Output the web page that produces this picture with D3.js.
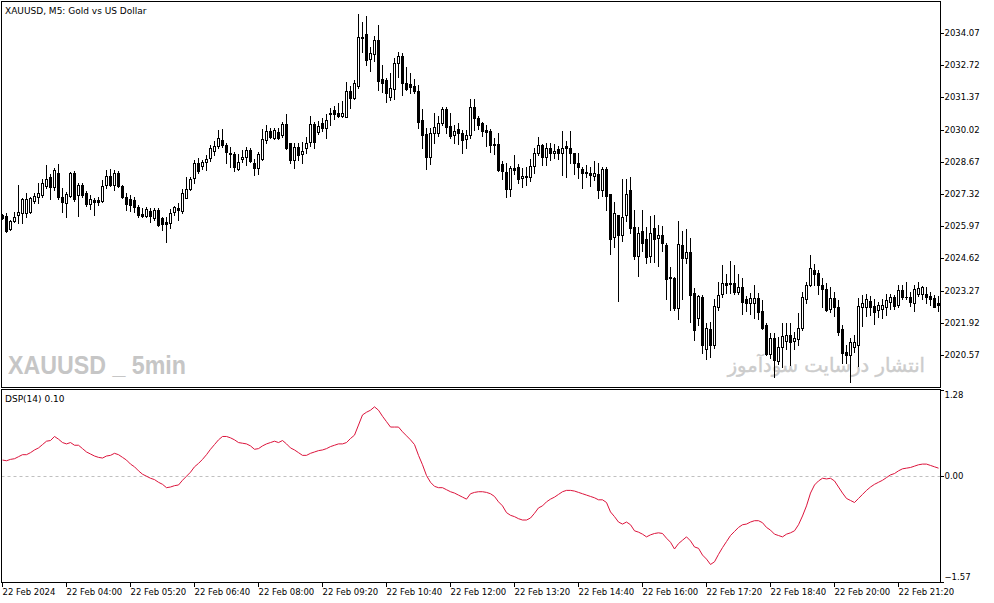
<!DOCTYPE html>
<html>
<head>
<meta charset="utf-8">
<script src="https://d3js.org/d3.v7.min.js"></script>
<style>
  html, body { margin: 0; padding: 0; background: #fff; }
  svg { display: block; }
  .axis text { font-family: "DejaVu Sans", sans-serif; font-size: 8.5px; fill: #000; }
  .axis line { stroke: #000; }
</style>
</head>
<body>
<div id="chart"></div>
<script>
// XAUUSD M5, 22 Feb 2024 - candles + DSP(14) oscillator

const symbolTitle = 'XAUUSD, M5:  Gold vs US Dollar';
const indicatorTitle = 'DSP(14) 0.10';
const watermarkLeft = 'XAUUSD _ 5min';
const watermarkRight = 'انتشار درسایت سودآموز';
const startTime = new Date(2024, 1, 22, 2, 40);
const barMinutes = 5;

const opens = [
  2026.44,2026.40,2025.85,2026.19,2026.44,2026.52,2026.52,2026.57,2027.03,2027.19,
  2027.28,2027.65,2028.03,2027.61,2028.20,2027.19,2026.94,2027.23,2028.20,2027.28,
  2027.70,2027.36,2026.90,2027.07,2027.07,2027.03,2027.70,2028.07,2027.70,2028.20,
  2027.65,2027.19,2027.11,2027.07,2026.77,2026.48,2026.40,2026.61,2026.31,2026.65,
  2026.31,2026.15,2026.10,2026.57,2026.73,2026.61,2027.15,2027.53,2027.99,2028.62,
  2028.49,2028.66,2028.83,2029.12,2029.33,2029.58,2029.37,2029.04,2028.99,2028.37,
  2028.78,2028.87,2029.16,2028.62,2028.41,2028.78,2029.58,2029.96,2029.66,2029.92,
  2029.79,2030.25,2029.45,2028.74,2029.29,2028.99,2029.25,2029.50,2030.25,2029.92,
  2030.29,2030.09,2030.71,2030.84,2030.71,2030.59,2030.55,2031.64,2031.34,2031.85,
  2033.86,2034.03,2032.98,2033.19,2033.77,2032.14,2032.10,2031.39,2031.72,2032.81,
  2033.11,2031.97,2031.93,2031.85,2031.64,2030.42,2029.83,2028.87,2029.87,2029.87,
  2030.29,2030.88,2030.17,2029.79,2030.04,2029.87,2029.62,2029.79,2030.97,2030.50,
  2030.29,2030.00,2029.96,2029.41,2029.41,2028.58,2028.24,2027.53,2028.41,2028.45,
  2027.99,2028.03,2028.03,2028.49,2029.04,2029.37,2028.87,2029.25,2029.04,2029.20,
  2029.04,2029.33,2029.25,2029.04,2028.62,2028.37,2028.24,2028.20,2028.07,2028.16,
  2027.49,2028.37,2027.32,2025.52,2026.44,2025.60,2026.44,2027.49,2025.94,2024.72,
  2025.77,2025.43,2024.72,2025.89,2025.47,2025.60,2025.18,2023.84,2023.80,2022.54,
  2025.18,2024.64,2024.89,2023.17,2022.12,2023.00,2020.82,2021.66,2020.99,2022.58,
  2023.12,2023.59,2023.54,2023.59,2023.21,2023.42,2022.91,2022.75,2022.75,2022.96,
  2022.41,2021.83,2020.61,2021.28,2020.32,2020.90,2021.15,2021.41,2021.15,2021.24,
  2021.70,2022.91,2023.50,2024.13,2024.01,2023.50,2023.33,2022.49,2022.96,2022.58,
  2021.66,2020.69,2020.57,2020.90,2020.99,2022.58,2022.58,2022.83,2022.62,2022.45,
  2022.49,2022.58,2022.79,2023.00,2022.66,2023.29,2023.00,2023.00,2022.75,2023.12,
  2023.12,2023.12,2023.04,2022.96,2022.75
];
const highs = [
  2026.48,2026.52,2026.23,2026.57,2027.70,2027.15,2027.36,2027.19,2027.36,2027.78,
  2027.95,2028.53,2028.16,2028.41,2028.58,2027.57,2027.40,2028.24,2028.29,2027.78,
  2027.78,2027.45,2027.28,2027.15,2027.19,2027.91,2028.33,2028.37,2028.33,2028.29,
  2027.70,2027.36,2027.28,2027.19,2026.86,2026.73,2026.77,2026.73,2026.73,2026.74,
  2026.36,2026.36,2026.69,2026.82,2026.94,2027.53,2028.03,2028.03,2028.74,2028.83,
  2028.74,2028.95,2029.37,2029.54,2030.00,2030.04,2029.45,2029.29,2029.08,2028.99,
  2029.16,2029.29,2029.25,2028.78,2029.08,2030.04,2030.21,2030.09,2030.09,2030.09,
  2030.34,2030.67,2029.46,2029.45,2029.45,2029.50,2029.71,2030.59,2030.34,2030.38,
  2030.50,2030.67,2030.92,2031.01,2031.13,2031.22,2032.02,2031.85,2032.10,2034.86,
  2034.53,2034.78,2033.48,2033.94,2034.40,2032.73,2032.18,2032.39,2033.02,2033.27,
  2033.23,2032.64,2032.39,2032.14,2031.89,2030.88,2030.09,2030.09,2030.71,2030.59,
  2030.97,2030.96,2030.71,2030.21,2030.29,2030.00,2030.00,2031.30,2031.30,2030.59,
  2030.34,2030.21,2030.04,2029.66,2029.87,2028.70,2028.62,2028.49,2028.95,2028.58,
  2028.41,2028.45,2028.78,2029.25,2029.71,2029.41,2029.45,2029.45,2029.41,2029.33,
  2029.96,2029.54,2029.96,2029.05,2029.04,2028.45,2028.53,2028.45,2028.70,2028.62,
  2028.45,2028.46,2027.33,2026.98,2026.45,2027.95,2027.95,2028.03,2026.65,2025.94,
  2026.65,2025.94,2026.40,2026.44,2026.02,2025.98,2025.26,2024.26,2023.85,2026.19,
  2025.77,2025.85,2025.47,2023.38,2023.08,2023.08,2021.91,2021.95,2022.91,2023.63,
  2024.34,2023.96,2024.51,2024.34,2023.96,2023.80,2023.04,2023.17,2023.50,2023.17,
  2022.87,2021.91,2021.49,2021.49,2021.32,2021.91,2021.91,2021.91,2021.53,2022.33,
  2023.21,2023.63,2024.76,2024.38,2024.13,2023.80,2023.59,2023.42,2023.21,2022.87,
  2021.83,2020.99,2021.28,2021.41,2022.96,2023.08,2023.12,2023.04,2022.91,2022.79,
  2022.91,2023.12,2023.12,2023.08,2023.50,2023.50,2023.63,2023.21,2023.50,2023.63,
  2023.46,2023.42,2023.21,2023.08,2023.04
];
const lows = [
  2026.29,2025.73,2025.81,2026.15,2026.10,2026.10,2026.36,2026.52,2026.94,2026.94,
  2027.19,2027.57,2027.11,2027.49,2027.11,2026.57,2026.36,2027.19,2027.03,2026.40,
  2027.19,2026.82,2026.69,2026.44,2026.86,2026.98,2027.57,2027.65,2027.49,2027.61,
  2027.17,2026.65,2026.61,2026.57,2026.36,2026.36,2026.35,2026.15,2026.23,2025.98,
  2025.81,2025.31,2025.89,2026.44,2026.23,2026.52,2027.14,2027.49,2027.78,2028.20,
  2028.37,2028.33,2028.70,2028.95,2029.25,2029.29,2028.62,2028.45,2028.29,2028.33,
  2028.66,2028.53,2028.66,2028.12,2028.16,2028.74,2029.45,2029.66,2029.62,2029.64,
  2029.71,2029.20,2028.62,2028.41,2028.74,2028.62,2029.04,2029.33,2029.25,2029.83,
  2029.96,2029.66,2030.21,2030.46,2030.55,2030.55,2030.54,2030.92,2031.30,2031.76,
  2033.27,2032.73,2032.48,2032.90,2031.68,2031.59,2031.18,2031.26,2031.30,2032.23,
  2031.47,2031.68,2031.55,2031.54,2030.09,2029.25,2028.37,2028.58,2029.45,2029.75,
  2030.21,2029.87,2029.66,2029.45,2029.41,2029.04,2029.25,2029.66,2030.00,2030.04,
  2029.75,2029.33,2029.08,2028.99,2028.29,2027.95,2027.19,2027.23,2028.16,2027.78,
  2027.61,2027.70,2027.86,2028.20,2028.95,2028.53,2028.53,2028.74,2028.83,2028.78,
  2028.12,2028.03,2028.62,2028.16,2027.99,2027.57,2028.03,2027.65,2027.91,2027.15,
  2027.23,2026.65,2024.80,2025.10,2022.83,2025.35,2026.19,2025.68,2024.59,2023.88,
  2024.93,2024.42,2024.47,2024.47,2024.30,2024.93,2022.91,2022.45,2022.45,2022.08,
  2022.91,2024.42,2021.95,2021.20,2021.82,2020.65,2020.40,2020.49,2020.86,2022.45,
  2023.00,2023.17,2023.17,2023.12,2023.12,2022.29,2022.41,2022.29,2022.12,2022.08,
  2021.66,2020.57,2020.44,2019.64,2020.19,2020.07,2020.82,2020.15,2020.82,2020.99,
  2021.62,2022.75,2023.46,2023.50,2023.12,2022.58,2022.41,2022.37,2022.20,2021.41,
  2020.23,2020.23,2019.43,2020.69,2020.11,2021.79,2022.20,2022.24,2021.87,2022.16,
  2022.12,2022.24,2022.49,2022.49,2022.58,2022.91,2022.91,2022.62,2022.41,2023.04,
  2022.91,2022.75,2022.66,2022.57,2022.41
];
const closes = [
  2026.31,2025.77,2026.19,2026.36,2026.57,2027.11,2027.11,2027.15,2027.23,2027.36,
  2027.78,2027.95,2027.61,2028.33,2027.19,2026.98,2027.32,2028.20,2027.11,2027.70,
  2027.28,2026.90,2027.11,2026.98,2026.98,2027.65,2028.07,2027.70,2028.20,2027.65,
  2027.19,2026.90,2026.86,2026.77,2026.44,2026.40,2026.69,2026.40,2026.65,2026.02,
  2026.06,2026.06,2026.52,2026.77,2026.65,2027.36,2027.53,2027.95,2028.62,2028.29,
  2028.66,2028.78,2029.25,2029.33,2029.66,2029.37,2029.08,2028.99,2028.45,2028.66,
  2028.87,2029.16,2028.70,2028.41,2028.99,2029.62,2029.96,2029.71,2030.00,2029.66,
  2030.25,2029.25,2028.74,2029.29,2028.95,2029.12,2029.45,2030.25,2029.50,2030.17,
  2030.09,2030.42,2030.67,2030.67,2030.59,2030.71,2031.64,2031.34,2031.97,2033.90,
  2033.90,2032.94,2033.23,2033.77,2032.06,2031.97,2031.55,2031.76,2032.81,2033.11,
  2031.97,2031.72,2031.81,2031.64,2030.34,2029.79,2028.87,2029.87,2030.13,2030.29,
  2030.88,2030.13,2029.75,2029.96,2029.87,2029.58,2029.79,2030.97,2030.50,2030.21,
  2029.96,2029.92,2029.37,2029.37,2028.33,2028.29,2027.53,2028.41,2028.33,2027.95,
  2028.07,2028.07,2028.49,2029.04,2029.37,2028.87,2029.25,2029.04,2029.12,2029.04,
  2029.25,2029.25,2029.04,2028.62,2028.45,2028.20,2028.20,2028.12,2028.20,2027.49,
  2028.37,2027.23,2025.43,2026.52,2025.60,2026.36,2027.32,2025.89,2024.72,2025.68,
  2025.26,2024.68,2025.68,2025.43,2025.60,2025.26,2023.75,2023.80,2022.54,2025.22,
  2024.64,2024.89,2023.08,2021.62,2023.04,2020.99,2021.70,2020.99,2022.62,2023.08,
  2023.59,2023.50,2023.59,2023.21,2023.42,2022.79,2022.75,2022.96,2022.96,2022.37,
  2021.70,2020.61,2021.28,2020.36,2020.90,2021.37,2021.41,2021.11,2021.28,2021.70,
  2023.00,2023.50,2024.21,2023.96,2023.50,2023.33,2022.45,2022.96,2022.58,2021.53,
  2020.65,2020.57,2021.11,2021.11,2022.62,2022.75,2022.91,2022.58,2022.37,2022.66,
  2022.66,2022.87,2023.00,2022.62,2023.29,2023.00,2022.99,2022.79,2023.33,2023.38,
  2023.42,2023.00,2022.91,2022.58,2022.66
];
const dspValues = [
  0.24,0.23,0.25,0.26,0.29,0.32,0.32,0.35,0.39,0.42,
  0.47,0.52,0.53,0.59,0.55,0.50,0.48,0.50,0.46,0.46,
  0.41,0.36,0.33,0.30,0.28,0.27,0.30,0.31,0.34,0.32,
  0.28,0.24,0.18,0.14,0.08,0.03,0.00,-0.03,-0.05,-0.09,
  -0.12,-0.17,-0.16,-0.14,-0.13,-0.06,0.00,0.06,0.14,0.19,
  0.25,0.32,0.40,0.47,0.54,0.59,0.59,0.57,0.54,0.50,
  0.49,0.48,0.45,0.40,0.41,0.45,0.48,0.50,0.52,0.50,
  0.53,0.48,0.42,0.39,0.35,0.31,0.31,0.34,0.36,0.38,
  0.39,0.41,0.44,0.46,0.48,0.48,0.50,0.56,0.61,0.76,
  0.91,0.95,0.98,1.03,0.98,0.89,0.81,0.73,0.73,0.73,
  0.66,0.60,0.54,0.47,0.31,0.17,0.01,-0.09,-0.15,-0.17,
  -0.17,-0.20,-0.23,-0.25,-0.28,-0.31,-0.34,-0.26,-0.24,-0.23,
  -0.23,-0.24,-0.26,-0.30,-0.38,-0.44,-0.54,-0.58,-0.60,-0.63,
  -0.65,-0.65,-0.62,-0.55,-0.47,-0.44,-0.38,-0.34,-0.31,-0.27,
  -0.23,-0.21,-0.21,-0.22,-0.24,-0.26,-0.28,-0.30,-0.32,-0.35,
  -0.35,-0.39,-0.53,-0.60,-0.68,-0.71,-0.68,-0.72,-0.81,-0.83,
  -0.86,-0.90,-0.87,-0.85,-0.84,-0.85,-0.92,-0.98,-1.08,-1.00,
  -0.95,-0.90,-0.96,-1.05,-1.07,-1.17,-1.23,-1.31,-1.27,-1.16,
  -1.06,-0.97,-0.88,-0.82,-0.76,-0.72,-0.71,-0.68,-0.66,-0.66,
  -0.69,-0.76,-0.80,-0.86,-0.88,-0.90,-0.86,-0.84,-0.81,-0.72,
  -0.59,-0.44,-0.25,-0.13,-0.07,-0.03,-0.04,-0.03,-0.07,-0.16,
  -0.25,-0.33,-0.36,-0.39,-0.33,-0.27,-0.21,-0.16,-0.12,-0.09,
  -0.06,-0.02,0.02,0.04,0.08,0.11,0.12,0.13,0.15,0.17,
  0.18,0.18,0.16,0.14,0.12
];
const priceTicks = [2034.07, 2032.72, 2031.37, 2030.02, 2028.67, 2027.32, 2025.97, 2024.62, 2023.27, 2021.92, 2020.57];
const dspTicks = [1.28, 0.00, -1.57];

// layout
const W = 994, H = 603;
const left = 1.5, right = 940.5;
const mainTop = 1.5, mainBottom = 387.5;
const subTop = 389.5, subBottom = 582.5;
const barStep = 4, firstBar = 2;

const n = closes.length;
const candles = d3.range(n).map(i => ({
  i, o: opens[i], h: Math.max(highs[i], opens[i], closes[i]),
  l: Math.min(lows[i], opens[i], closes[i]), c: closes[i],
  t: d3.timeMinute.offset(startTime, i * barMinutes)
}));

const x = d3.scaleLinear().domain([0, n - 1]).range([firstBar, firstBar + barStep * (n - 1)]);
const y = d3.scaleLinear().domain([2020.57, 2034.07]).range([355, 33]);
const yd = d3.scaleLinear().domain([-1.57, 1.28]).range([582, 390]);

const svg = d3.select('#chart').append('svg').attr('width', W).attr('height', H);
const defs = svg.append('defs');
defs.append('clipPath').attr('id', 'clipMain').append('rect')
  .attr('x', left + 0.5).attr('y', mainTop + 0.5).attr('width', right - left - 1).attr('height', mainBottom - mainTop - 1);
defs.append('clipPath').attr('id', 'clipSub').append('rect')
  .attr('x', left + 0.5).attr('y', subTop + 0.5).attr('width', right - left - 1).attr('height', subBottom - subTop - 1);

svg.append('rect').attr('width', W).attr('height', H).attr('fill', '#fff');

// watermarks (behind the candles)
svg.append('text')
  .attr('x', 8).attr('y', 374)
  .attr('textLength', 178).attr('lengthAdjust', 'spacingAndGlyphs')
  .style('font-family', '"Liberation Sans", Arial, sans-serif')
  .style('font-weight', 'bold').style('font-size', '26px')
  .style('fill', '#c6c6c6')
  .text(watermarkLeft);
svg.append('text')
  .attr('x', 925).attr('y', 372)
  .attr('text-anchor', 'end')
  .style('font-family', '"DejaVu Sans", sans-serif')
  .style('font-size', '19.5px')
  .style('stroke', '#cccccc').style('stroke-width', 0.4)
  .style('fill', '#cccccc')
  .text(watermarkRight);

// candles
const gc = svg.append('g').attr('clip-path', 'url(#clipMain)').attr('shape-rendering', 'crispEdges');
const px = i => Math.round(x(i));
const py = v => Math.round(y(v));

gc.selectAll('line.wick').data(candles).join('line')
  .attr('class', 'wick')
  .attr('x1', d => px(d.i) + 0.5).attr('x2', d => px(d.i) + 0.5)
  .attr('y1', d => py(d.h)).attr('y2', d => py(d.l) + 1)
  .attr('stroke', '#000').attr('stroke-width', 1);

gc.selectAll('rect.body').data(candles).join('rect')
  .attr('class', 'body')
  .each(function(d) {
    const top = py(Math.max(d.o, d.c));
    const bot = py(Math.min(d.o, d.c));
    const sel = d3.select(this);
    if (d.c >= d.o) {
      sel.attr('x', px(d.i) - 0.5).attr('y', top + 0.5)
        .attr('width', 2).attr('height', Math.max(0, bot - top))
        .attr('fill', '#fff').attr('stroke', '#000').attr('stroke-width', 1);
    } else {
      sel.attr('x', px(d.i) - 1).attr('y', top)
        .attr('width', 3).attr('height', Math.max(1, bot - top + 1))
        .attr('fill', '#000');
    }
  });

// DSP zero level
svg.append('line')
  .attr('x1', left).attr('x2', right)
  .attr('y1', Math.round(yd(0)) + 0.5).attr('y2', Math.round(yd(0)) + 0.5)
  .attr('stroke', '#c0c0c0').attr('stroke-dasharray', '3,3').attr('stroke-width', 1);

// DSP line
const dspLine = d3.line().x((d, i) => x(i) + 0.5).y(d => yd(d));
svg.append('path')
  .datum(dspValues)
  .attr('clip-path', 'url(#clipSub)')
  .attr('d', dspLine)
  .attr('fill', 'none').attr('stroke', '#dc143c').attr('stroke-width', 1);

// frames
const frames = svg.append('g').attr('shape-rendering', 'crispEdges').attr('fill', 'none').attr('stroke', '#000');
frames.append('rect').attr('x', left).attr('y', mainTop).attr('width', right - left).attr('height', mainBottom - mainTop);
frames.append('rect').attr('x', left).attr('y', subTop).attr('width', right - left).attr('height', subBottom - subTop);

// price axis
const priceAxis = svg.append('g').attr('class', 'axis')
  .attr('transform', `translate(${right},0)`)
  .attr('shape-rendering', 'crispEdges')
  .call(d3.axisRight(y).tickValues(priceTicks).tickSize(3).tickPadding(1).tickFormat(d3.format('.2f')));
priceAxis.select('.domain').remove();
priceAxis.selectAll('.tick').attr('transform', d => `translate(0,${Math.round(y(d)) + 0.5})`);

// DSP axis
const dspAxis = svg.append('g').attr('class', 'axis')
  .attr('transform', `translate(${right},0)`)
  .attr('shape-rendering', 'crispEdges')
  .call(d3.axisRight(yd).tickValues(dspTicks).tickSize(3).tickPadding(1).tickFormat(d3.format('.2f')));
dspAxis.select('.domain').remove();
dspAxis.selectAll('.tick').attr('transform', d => `translate(0,${Math.round(yd(d)) + 0.5})`);
dspAxis.selectAll('.tick text').attr('y', d => d === dspTicks[0] ? 5 : (d === dspTicks[2] ? -5 : 0));

// time axis
const tickIdx = d3.range(0, n, 16);
const fmtFirst = d3.timeFormat('%d %b %Y');
const fmtTime = d3.timeFormat('%d %b %H:%M');
const timeAxis = svg.append('g').attr('class', 'axis')
  .attr('transform', `translate(0,${subBottom})`)
  .attr('shape-rendering', 'crispEdges')
  .call(d3.axisBottom(x).tickValues(tickIdx).tickSize(4).tickPadding(2)
    .tickFormat(i => i === 0 ? fmtFirst(candles[i].t) : fmtTime(candles[i].t)));
timeAxis.select('.domain').remove();
timeAxis.selectAll('.tick').attr('transform', i => `translate(${px(i) + 0.5},0)`);
timeAxis.selectAll('.tick text').attr('text-anchor', 'start').attr('x', 0);

// titles
svg.append('text').attr('x', 5).attr('y', 14)
  .style('font-family', '"DejaVu Sans", sans-serif').style('font-size', '9px')
  .text(symbolTitle);
svg.append('text').attr('x', 5).attr('y', 402)
  .style('font-family', '"DejaVu Sans", sans-serif').style('font-size', '9px')
  .text(indicatorTitle);
</script>
</body>
</html>
